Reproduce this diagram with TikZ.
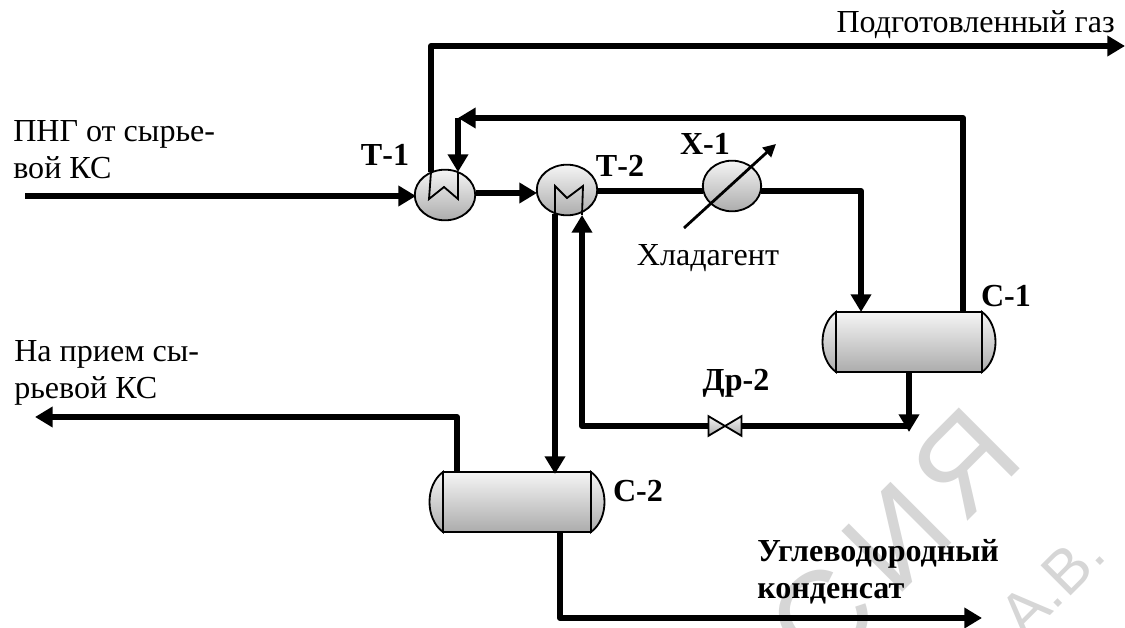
\documentclass[tikz,border=0pt]{standalone}
\usepackage{fontspec}
\setmainfont{Liberation Serif}
\newfontfamily\markfont{Liberation Sans}
\usepackage{tikz}
\usetikzlibrary{arrows.meta,shapes.geometric}
\tikzset{
    flow/.style={line width=4.2pt,line join=round,-{Triangle[length=12.5pt,width=14pt]}},
    pipe/.style={line width=4.2pt,line join=round},
    thinline/.style={line width=1.3pt},
    exch/.style={ellipse,draw,line width=1.3pt,top color=gray!8,bottom color=gray!65,minimum width=43pt,minimum height=36pt,inner sep=0pt},
    vessel/.style={rectangle,draw,line width=1.3pt,top color=gray!8,bottom color=gray!65,minimum width=104pt,minimum height=42.5pt,inner sep=0pt},
    vesselcap/.style={line width=1.3pt,top color=gray!8,bottom color=gray!65},
    lbl/.style={font=\fontsize{22.8pt}{26.4pt}\selectfont,align=left,inner sep=0pt},
    tag/.style={font=\fontsize{22.8pt}{26.4pt}\selectfont\bfseries,align=left,inner sep=0pt},
    markletter/.style={font=\fontsize{89pt}{89pt}\selectfont\markfont,text=gray!32,rotate=45,inner sep=0pt}
}
\begin{document}
\begin{tikzpicture}[x=0.025cm,y=-0.025cm]
    \useasboundingbox (0,0) rectangle (1125,628);
    \begin{scope}
    \clip (0,0) rectangle (1125,628);
    \node[markletter] (markYa) at (965,463) {Я};
    \node[markletter] (markI) at (897,537) {И};
    \node[markletter] (markS) at (822,617) {С};
    \node[markletter,font=\fontsize{44pt}{44pt}\selectfont\markfont] (markA) at (1052,584) {А.В.};
    \end{scope}

    % apparatus
    \node[exch] (T1) at (445,195) {};
    \node[exch] (T2) at (567,190) {};
    \node[exch,minimum width=41.5pt] (X1) at (732,186) {};

    \draw[vesselcap] (836,312) .. controls (818,325) and (818,359) .. (836,372) -- cycle;
    \draw[vesselcap] (982,312) .. controls (1000,325) and (1000,359) .. (982,372) -- cycle;
    \node[vessel] (C1) at (909,342) {};
    \draw[vesselcap] (443,472) .. controls (425,485) and (425,519) .. (443,532) -- cycle;
    \draw[vesselcap] (591,472) .. controls (609,485) and (609,519) .. (591,532) -- cycle;
    \node[vessel,minimum width=105pt] (C2) at (517,502) {};
    \node[minimum width=23pt,minimum height=13.5pt,inner sep=0pt] (Dr2) at (725,426) {};

    \coordinate (T1a) at (431,172);
    \coordinate (T1b) at (458,172);
    \coordinate (T1out) at (476,193);
    \coordinate (T2in) at (537,193);
    \coordinate (T2a) at (555,214);
    \coordinate (T2b) at (582,215);
    \coordinate (T2out) at (597,191);
    \coordinate (X1in) at (703,191);
    \coordinate (X1out) at (761,191);
    \coordinate (feed) at (25,196);
    \coordinate (T1in) at (416,196);
    \coordinate (gasout) at (1125,46);
    \coordinate (C1in) at (861,312);
    \coordinate (C1top) at (963,312);
    \coordinate (C1bot) at (909,372);
    \coordinate (C2in) at (555,474);
    \coordinate (C2top) at (457,472);
    \coordinate (C2bot) at (560,532);
    \coordinate (tee) at (909,426);
    \coordinate (teetip) at (909,432);
    \coordinate (rawout) at (35,417);
    \coordinate (condout) at (982,618);

    % coils
    \draw[thinline] (T1a)--(429,199)--(444,187)--(458,199)--(T1b);
    \draw[thinline] (T2a)--(555,186)--(567,198)--(583,186)--(T2b);

    % pipes
    \draw[flow] (feed)--(T1in);
    \draw[flow] (T1out)--(T2in);
    \draw[pipe] (T2out)--(X1in);
    \draw[flow] (X1out)--(C1in|-X1out)--(C1in);
    \draw[flow] (T1a)--(T1a|-gasout)--(gasout);
    \draw[flow] (C1top)--(963,118)--(458,118);
    \draw[flow] (458,118)--(T1b);
    \draw[flow] (C2in|-T2a)--(C2in);
    \draw[pipe] (tee)--(Dr2.east);
    \draw[flow] (Dr2.west)--(T2b|-tee)--(T2b);
    \draw[flow] (C1bot)--(teetip);
    \draw[thinline,top color=gray!8,bottom color=gray!65] (Dr2.north west)--(Dr2.south east)--(Dr2.north east)--(Dr2.south west)--cycle;

    \draw[flow] (C2top)--(C2top|-rawout)--(rawout);
    \draw[flow] (C2bot)--(C2bot|-condout)--(condout);

    \draw[line width=2pt,-{Triangle[length=9pt,width=9pt]}] (684,228)--(776,144);

    % labels
    \node[lbl,anchor=base east] (gaslabel) at (1115,33) {Подготовленный газ};
    \node[lbl,anchor=west] (feedlabel) at (13,150) {ПНГ от сырье-\\вой КС};
    \node[lbl,anchor=west] (rawlabel) at (14,373) {На прием сы-\\рьевой КС};
    \node[lbl,anchor=base] (coolant) at (708,266) {Хладагент};
    \node[tag,anchor=base] (T1tag) at (385,166) {Т-1};
    \node[tag,anchor=base] (T2tag) at (620,177) {Т-2};
    \node[tag,anchor=base] (X1tag) at (705,155) {Х-1};
    \node[tag,anchor=base] (C1tag) at (1006,307) {С-1};
    \node[tag,anchor=base] (Dr2tag) at (736,391) {Др-2};
    \node[tag,anchor=base] (C2tag) at (638,502) {С-2};
    \node[tag,anchor=west] (condlabel) at (757,572) {Углеводородный\\конденсат};
\end{tikzpicture}
\end{document}
